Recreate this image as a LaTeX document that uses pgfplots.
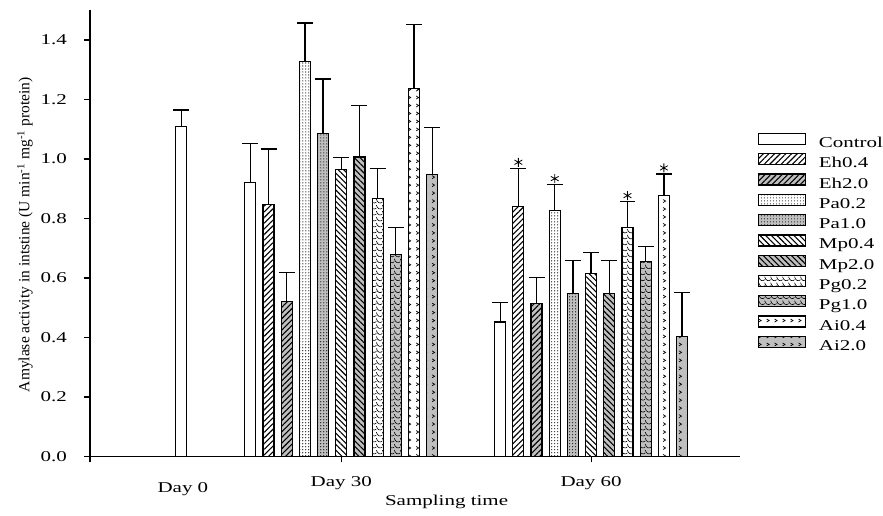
\documentclass[border=0pt]{standalone}
\usepackage{pgfplots}
\pgfplotsset{compat=1.18}
\usetikzlibrary{patterns,patterns.meta}
\usepackage{fontspec}
\setmainfont{Liberation Serif}[FakeStretch=1.4]
\newfontfamily\ylabfont{Liberation Serif}

\pgfdeclarepatternformonly{scales}{\pgfqpoint{-1pt}{-1pt}}{\pgfqpoint{7pt}{7pt}}{\pgfqpoint{6pt}{6pt}}{%
  \pgfsetlinewidth{0.6pt}%
  \pgfpathmoveto{\pgfqpoint{0pt}{6pt}}%
  \pgfpathcurveto{\pgfqpoint{1pt}{2pt}}{\pgfqpoint{4pt}{1pt}}{\pgfqpoint{6pt}{3pt}}%
  \pgfusepath{stroke}}
\pgfdeclarepatternformonly{arrowsp}{\pgfqpoint{-1pt}{-1pt}}{\pgfqpoint{9pt}{9pt}}{\pgfqpoint{8pt}{8pt}}{%
  \pgfsetlinewidth{0.7pt}%
  \pgfpathmoveto{\pgfqpoint{2pt}{5.5pt}}%
  \pgfpathlineto{\pgfqpoint{4.5pt}{4pt}}%
  \pgfpathlineto{\pgfqpoint{2pt}{2.5pt}}%
  \pgfusepath{stroke}}

\pgfplotsset{
  mybar/.style={ybar, bar width=11, bar shift=0pt, draw=black, line width=1.2bp,
    error bars/y dir=plus, error bars/y explicit,
    error bars/error bar style={line width=1.3bp, black},
    error bars/error mark options={rotate=90, mark size=8bp, line width=1.3bp, black}},
}

\begin{document}
\fontsize{15bp}{17bp}\selectfont
\begin{tikzpicture}
\begin{axis}[
  x=1bp, y=297.6bp,
  xmin=90, xmax=740, ymin=0, ymax=1.5,
  axis lines*=left,
  axis line style={line width=1.5bp},
  clip=false,
  tick align=outside,
  major tick length=6bp,
  tick style={line width=1.2bp, black},
  xtick={90,341.5,591.5},
  xticklabels={,Day 30,Day 60},
  xticklabel style={yshift=-9bp},
  ytick={0,0.2,0.4,0.6,0.8,1.0,1.2,1.4},
  /pgf/number format/assume math mode=true,
  /pgf/number format/fixed,
  /pgf/number format/fixed zerofill,
  /pgf/number format/precision=1,
  yticklabel style={xshift=-12bp},
  xlabel={Sampling time},
  xlabel style={at={(axis description cs:0.549,-0.1013)}, anchor=center},
  ylabel={\ylabfont\fontsize{15.5bp}{17bp}\selectfont Amylase activity in intstine (U min\textsuperscript{-1} mg\textsuperscript{-1} protein)},
  ylabel style={at={(axis description cs:-0.1,0.4966)}, anchor=center},
  legend image code/.code={\draw[#1, line width=1.2bp] (0bp,-0.5bp) rectangle (47bp,10.5bp);},
  legend cell align=left,
  legend style={draw=none, fill=none, inner sep=0pt,
    at={(axis description cs:1.0277,0.7256)}, anchor=north west,
    column sep=13bp, row sep=2.7bp,
    nodes={inner sep=0pt, text height=10bp, text depth=3bp}},
]
% Control
\addplot[mybar, fill=white] coordinates {(181.5,1.109) +- (0,0.056) (250.5,0.921) +- (0,0.132) (500.5,0.452) +- (0,0.066)};
% Eh0.4
\addplot[mybar, fill=white, postaction={pattern={Lines[angle=45,distance=4bp,line width=1.1bp]}}] coordinates {(268.7,0.848) +- (0,0.186) (518.7,0.840) +- (0,0.129)};
% Eh2.0
\addplot[mybar, fill=gray!50, postaction={pattern={Lines[angle=45,distance=4bp,line width=1.1bp]}}] coordinates {(286.9,0.521) +- (0,0.097) (536.9,0.515) +- (0,0.087)};
% Pa0.2
\addplot[mybar, fill=white, postaction={pattern={Dots[distance=3bp,radius=0.6bp]}}] coordinates {(305.1,1.327) +- (0,0.130) (555.1,0.826) +- (0,0.088)};
% Pa1.0
\addplot[mybar, fill=gray!50, postaction={pattern={Dots[distance=3bp,radius=0.6bp]}}] coordinates {(323.3,1.087) +- (0,0.182) (573.3,0.548) +- (0,0.111)};
% Mp0.4
\addplot[mybar, fill=white, postaction={pattern={Lines[angle=-45,distance=4bp,line width=1.1bp]}}] coordinates {(341.5,0.966) +- (0,0.040) (591.5,0.615) +- (0,0.071)};
% Mp2.0
\addplot[mybar, fill=gray!50, postaction={pattern={Lines[angle=-45,distance=4bp,line width=1.1bp]}}] coordinates {(359.7,1.007) +- (0,0.172) (609.7,0.548) +- (0,0.111)};
% Pg0.2
\addplot[mybar, fill=white, postaction={pattern=scales}] coordinates {(377.9,0.867) +- (0,0.100) (627.9,0.770) +- (0,0.087)};
% Pg1.0
\addplot[mybar, fill=gray!50, postaction={pattern=scales}] coordinates {(396.1,0.680) +- (0,0.090) (646.1,0.655) +- (0,0.050)};
% Ai0.4
\addplot[mybar, fill=white, postaction={pattern=arrowsp}] coordinates {(414.3,1.237) +- (0,0.215) (664.3,0.878) +- (0,0.072)};
% Ai2.0
\addplot[mybar, fill=gray!50, postaction={pattern=arrowsp}] coordinates {(432.5,0.949) +- (0,0.157) (682.5,0.402) +- (0,0.150)};
\legend{Control,Eh0.4,Eh2.0,Pa0.2,Pa1.0,Mp0.4,Mp2.0,Pg0.2,Pg1.0,Ai0.4,Ai2.0}
% significance stars
\addplot[only marks, mark=asterisk, mark size=4.5bp, mark options={line width=0.8bp, black}, forget plot] coordinates {(518.7,0.989) (555.1,0.934) (627.9,0.877) (664.3,0.970)};
\node at (axis cs:183,-0.1085) {Day 0};
\path (axis cs:0,-0.1993) rectangle (axis cs:883,1.5346);
\end{axis}
\end{tikzpicture}
\end{document}
